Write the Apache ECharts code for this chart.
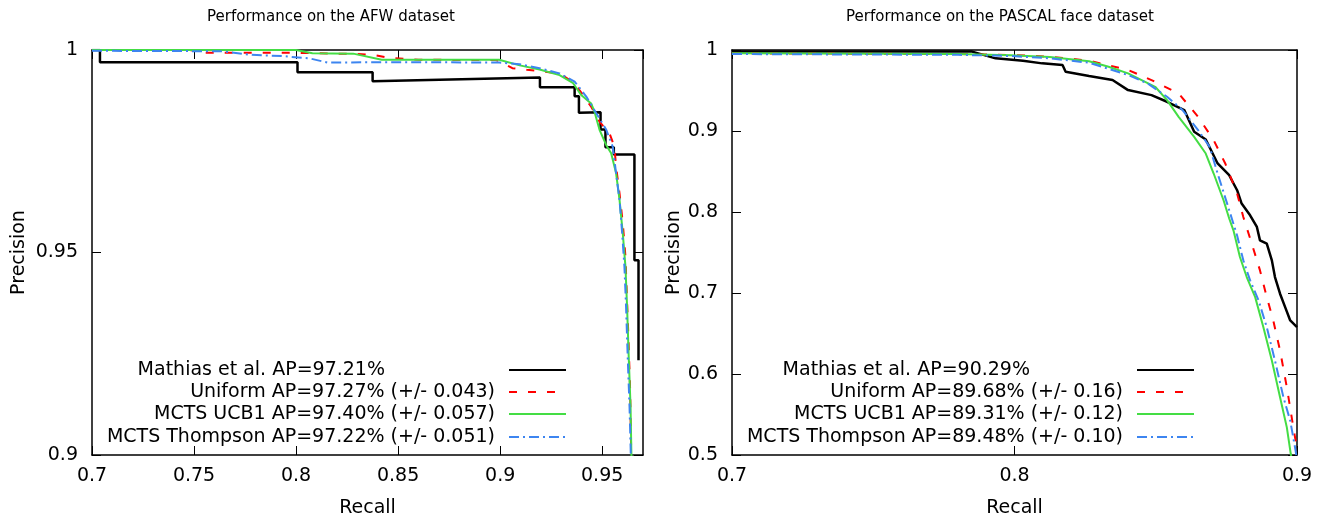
<!DOCTYPE html>
<html>
<head>
<meta charset="utf-8">
<script src="https://cdn.jsdelivr.net/npm/echarts@6/dist/echarts.min.js"></script>
<style>html,body{margin:0;padding:0;background:#fff;}#c{width:1329px;height:523px;}</style>
</head>
<body>
<div id="c"></div>
<script>
// ---------- data ----------
const titles = ['Performance on the AFW dataset', 'Performance on the PASCAL face dataset'];
const afwNames = [
  'Mathias et al. AP=97.21%',
  'Uniform AP=97.27% (+/- 0.043)',
  'MCTS UCB1 AP=97.40% (+/- 0.057)',
  'MCTS Thompson AP=97.22% (+/- 0.051)'
];
const pascalNames = [
  'Mathias et al. AP=90.29%',
  'Uniform AP=89.68% (+/- 0.16)',
  'MCTS UCB1 AP=89.31% (+/- 0.12)',
  'MCTS Thompson AP=89.48% (+/- 0.10)'
];
const afwMathias = [[0.700,1.0],[0.7039,1.0],[0.7039,0.9970],[0.8007,0.9970],[0.8007,0.9945],[0.8375,0.9945],[0.8375,0.9923],[0.9195,0.9932],[0.9195,0.9908],[0.9365,0.9908],[0.9365,0.9886],[0.9386,0.9886],[0.9386,0.9845],[0.9492,0.9846],[0.9492,0.9804],[0.9516,0.9804],[0.9516,0.9760],[0.9557,0.9760],[0.9557,0.9742],[0.9658,0.9742],[0.9658,0.9481],[0.9678,0.9481],[0.9678,0.9234]];
const afwUniform = [[0.700,1.0],[0.748,1.0],[0.755,0.9993],[0.800,0.9993],[0.830,0.9990],[0.8375,0.9988],[0.845,0.9981],[0.860,0.9976],[0.8977,0.9975],[0.900,0.9972],[0.906,0.9955],[0.913,0.9951],[0.9214,0.9947],[0.9291,0.9942],[0.9365,0.9918],[0.9446,0.9860],[0.9487,0.9823],[0.9536,0.9794],[0.9560,0.9761],[0.9568,0.9712],[0.9585,0.9646],[0.9601,0.9572],[0.9614,0.9490],[0.9620,0.9407],[0.9629,0.9284],[0.9637,0.9160],[0.9642,0.9012],[0.9643,0.8990]];
const afwUCB1 = [[0.700,1.0],[0.800,1.0],[0.808,0.9992],[0.828,0.9991],[0.842,0.9976],[0.870,0.9976],[0.8995,0.9976],[0.9096,0.9962],[0.9193,0.9952],[0.9291,0.9938],[0.9356,0.9919],[0.9397,0.9889],[0.9446,0.9868],[0.9462,0.9848],[0.9487,0.9803],[0.9520,0.9765],[0.9544,0.9745],[0.9568,0.9696],[0.9585,0.9630],[0.9601,0.9547],[0.9614,0.9465],[0.9622,0.9366],[0.9630,0.9243],[0.9639,0.9119],[0.9643,0.9005],[0.9644,0.8990]];
const afwThompson = [[0.700,0.9998],[0.763,0.9997],[0.7783,0.9988],[0.7934,0.9985],[0.8069,0.9979],[0.8153,0.9969],[0.850,0.9970],[0.8995,0.9969],[0.9096,0.9965],[0.9193,0.9955],[0.9291,0.9942],[0.9365,0.9922],[0.9422,0.9885],[0.9471,0.9844],[0.9520,0.9803],[0.9552,0.9761],[0.9568,0.9696],[0.9585,0.9630],[0.9598,0.9547],[0.9609,0.9465],[0.9617,0.9366],[0.9625,0.9243],[0.9634,0.9119],[0.9640,0.9005],[0.9641,0.8990]];
const pascalMathias = [[0.700,0.998],[0.785,0.998],[0.7933,0.9897],[0.803,0.9868],[0.8098,0.9835],[0.8170,0.9814],[0.8181,0.9732],[0.8264,0.9678],[0.8347,0.9629],[0.8402,0.9505],[0.8485,0.9443],[0.854,0.9361],[0.8601,0.9258],[0.8636,0.8990],[0.8677,0.8895],[0.8719,0.8599],[0.876,0.8454],[0.8788,0.8269],[0.8804,0.8104],[0.8834,0.7959],[0.8858,0.7815],[0.8869,0.765],[0.8893,0.7609],[0.8911,0.7403],[0.8922,0.7197],[0.894,0.6991],[0.8958,0.6825],[0.8976,0.6661],[0.900,0.6578]];
const pascalUniform = [[0.700,0.996],[0.780,0.995],[0.7987,0.9938],[0.8125,0.9918],[0.8264,0.9868],[0.8402,0.9753],[0.8485,0.9629],[0.8581,0.9464],[0.865,0.9175],[0.8705,0.8887],[0.8746,0.8599],[0.8788,0.8228],[0.8810,0.7938],[0.884,0.7609],[0.8869,0.7279],[0.8893,0.6949],[0.8916,0.6661],[0.894,0.629],[0.8964,0.5836],[0.8987,0.5341],[0.900,0.508]];
const pascalUCB1 = [[0.700,0.996],[0.780,0.995],[0.7987,0.9935],[0.8125,0.9915],[0.8264,0.9862],[0.8333,0.9794],[0.8402,0.9712],[0.8498,0.9546],[0.854,0.9382],[0.8581,0.9175],[0.8636,0.8928],[0.8677,0.8722],[0.8705,0.8475],[0.874,0.8145],[0.876,0.792],[0.8775,0.7774],[0.8798,0.7444],[0.8822,0.7197],[0.8852,0.6949],[0.8881,0.6578],[0.8911,0.6166],[0.894,0.5712],[0.8964,0.5341],[0.8978,0.5012],[0.898,0.498]];
const pascalThompson = [[0.700,0.995],[0.780,0.994],[0.7987,0.9926],[0.8125,0.9897],[0.8264,0.9843],[0.8402,0.9691],[0.8471,0.9588],[0.854,0.9423],[0.8595,0.9258],[0.865,0.901],[0.8691,0.8804],[0.8719,0.8475],[0.8753,0.8100],[0.8788,0.7710],[0.881,0.7403],[0.8834,0.7156],[0.8864,0.6908],[0.8893,0.6578],[0.8922,0.6166],[0.8952,0.5712],[0.8976,0.5424],[0.8993,0.5094],[0.900,0.495]];

// ---------- styles ----------
const FONT = 'DejaVu Sans';
const styles = [
  {color:'#000000', width:2.5, type:'solid'},
  {color:'#ff0000', width:2, type:[8,11]},
  {color:'#44dd44', width:2, type:'solid'},
  {color:'#3d85f0', width:2, type:[10,4,2,4]}
];
const tickFmt = v => String(+(+v).toFixed(2));

function xAx(grid, min, max, interval, pos, main, showMax) {
  return {type:'value', gridIndex:grid, min:min, max:max, interval:interval, position:pos,
    name: main ? 'Recall' : '', nameLocation:'middle', nameGap:44,
    nameTextStyle:{fontFamily:FONT, fontSize:19, color:'#000'},
    axisLine:{show:true, onZero:false, lineStyle:{color:'#000', width:1.5}},
    axisTick:{show:true, inside:true, length:9, lineStyle:{color:'#000', width:1}},
    axisLabel:{show:main, formatter:tickFmt, margin:12, fontFamily:FONT, fontSize:19, color:'#000', showMaxLabel:showMax},
    splitLine:{show:false}};
}
function yAx(grid, min, max, interval, pos, main, gap) {
  return {type:'value', gridIndex:grid, min:min, max:max, interval:interval, position:pos,
    name: main ? 'Precision' : '', nameLocation:'middle', nameGap:gap,
    nameTextStyle:{fontFamily:FONT, fontSize:19, color:'#000'},
    axisLine:{show:true, onZero:false, lineStyle:{color:'#000', width:1.5}},
    axisTick:{show:true, inside:true, length:9, lineStyle:{color:'#000', width:1}},
    axisLabel:{show:main, formatter:tickFmt, margin:14, fontFamily:FONT, fontSize:19, color:'#000'},
    splitLine:{show:false}};
}
function legendItem(name, right, top, extra) {
  return {data:[name], right:right, top:top, orient:'horizontal', align:'right', padding:0,
    itemWidth:57, itemHeight:14, selectedMode:false,
    itemStyle:{opacity:0, borderWidth:0},
    textStyle:{fontFamily:FONT, fontSize:19, color:'#000', lineHeight:22, padding:[0, 9 + extra, 0, 0]}};
}
function mkSeries(name, data, idx, s) {
  return {type:'line', name:name, data:data, xAxisIndex:idx, yAxisIndex:idx, symbol:'none',
    showSymbol:false, smooth:false, silent:true, animation:false,
    lineStyle:{color:s.color, width:s.width, type:s.type}, itemStyle:{color:s.color},
    emphasis:{disabled:true}};
}

const afwData = [afwMathias, afwUniform, afwUCB1, afwThompson];
const pascalData = [pascalMathias, pascalUniform, pascalUCB1, pascalThompson];
const legendTops = [359, 381, 403, 426];
const series = [];
const legends = [];
afwNames.forEach((n, i) => {
  series.push(mkSeries(n, afwData[i], 0, styles[i]));
  legends.push(legendItem(n, 762, legendTops[i], i === 0 ? 110 : 0));
});
pascalNames.forEach((n, i) => {
  series.push(mkSeries(n, pascalData[i], 2, styles[i]));
  legends.push(legendItem(n, 134, legendTops[i], i === 0 ? 93 : 0));
});

const option = {
  animation:false,
  backgroundColor:'#fff',
  title:[
    {text:titles[0], left:331, top:10, textAlign:'center', padding:0, textStyle:{fontFamily:FONT, fontSize:15, fontWeight:'normal', color:'#000'}},
    {text:titles[1], left:1000, top:10, textAlign:'center', padding:0, textStyle:{fontFamily:FONT, fontSize:15, fontWeight:'normal', color:'#000'}}
  ],
  grid:[
    {left:92, right:686, top:50, bottom:68, containLabel:false},
    {left:732, right:32, top:50, bottom:68, containLabel:false}
  ],
  xAxis:[
    xAx(0, 0.7, 0.97, 0.05, 'bottom', true, false),
    xAx(0, 0.7, 0.97, 0.05, 'top', false, false),
    xAx(1, 0.7, 0.9, 0.1, 'bottom', true, true),
    xAx(1, 0.7, 0.9, 0.1, 'top', false, true)
  ],
  yAxis:[
    yAx(0, 0.9, 1, 0.05, 'left', true, 63),
    yAx(0, 0.9, 1, 0.05, 'right', false, 0),
    yAx(1, 0.5, 1, 0.1, 'left', true, 48),
    yAx(1, 0.5, 1, 0.1, 'right', false, 0)
  ],
  legend:legends,
  series:series
};
const chart = echarts.init(document.getElementById('c'), null, {renderer:'canvas'});
chart.setOption(option);
</script>
</body>
</html>
